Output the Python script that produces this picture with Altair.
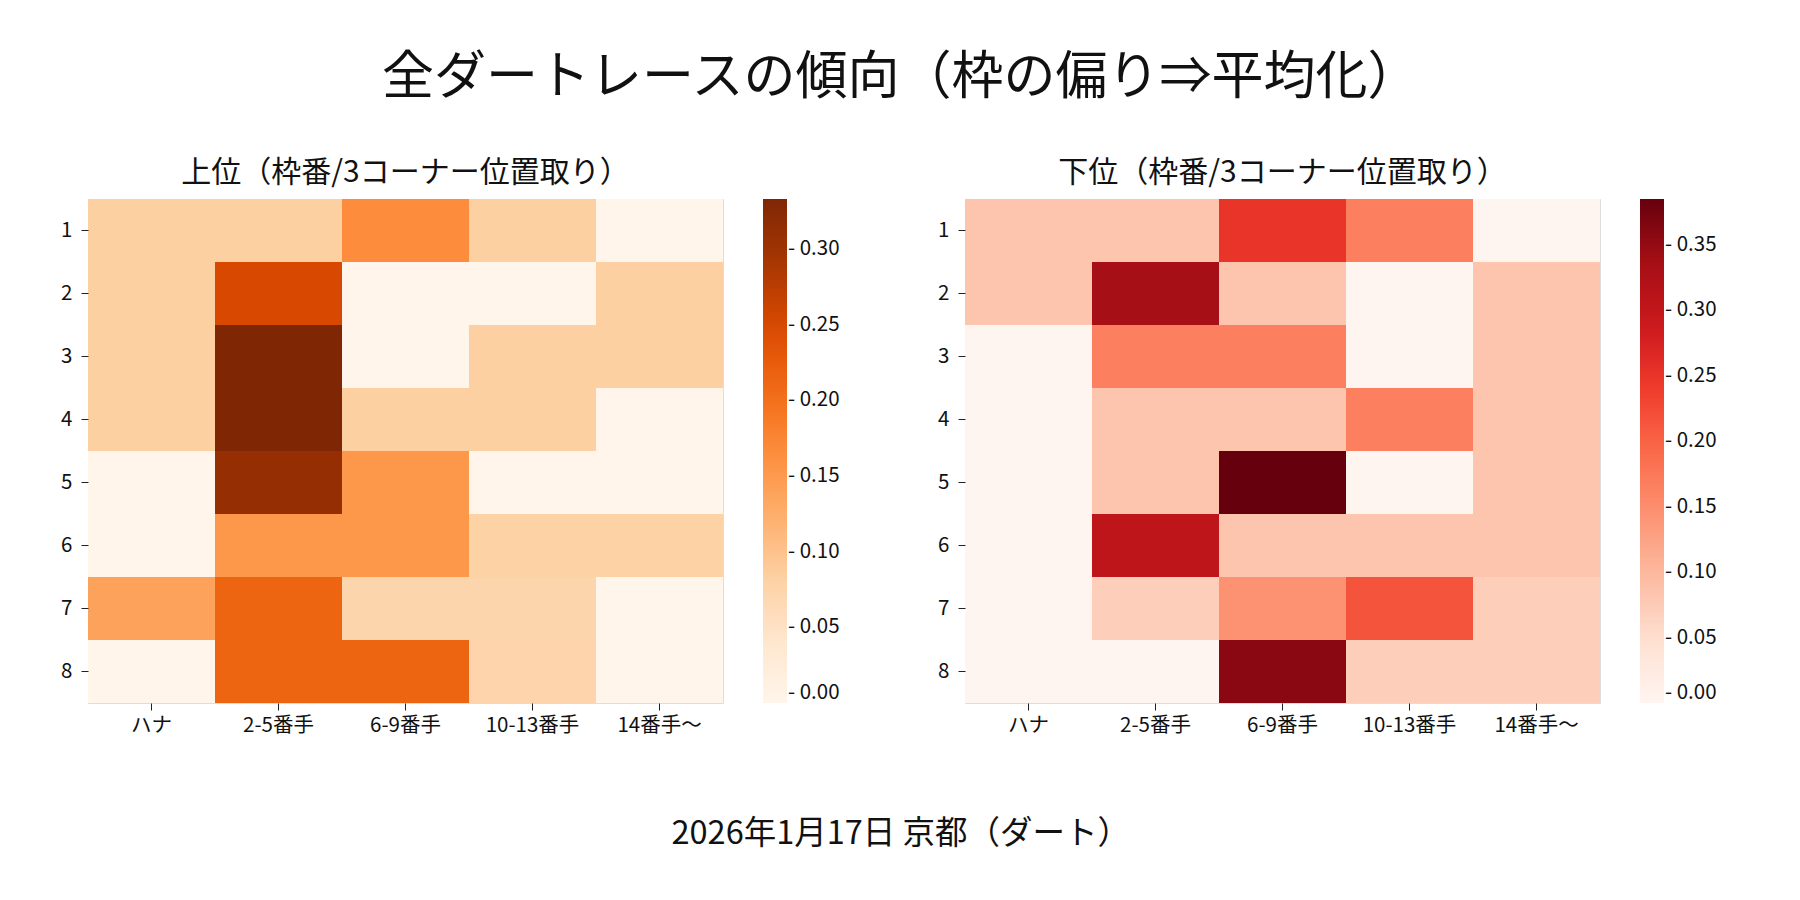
import altair as alt
import pandas as pd

FONT = "Noto Sans CJK JP"

positions = ["ハナ", "2-5番手", "6-9番手", "10-13番手", "14番手〜"]
waku = [1, 2, 3, 4, 5, 6, 7, 8]

# 上位 (rows = 枠番 1..8, cols = positions)
top_r1 = [0.083, 0.083, 0.167, 0.083, 0.0]
top_r2 = [0.083, 0.250, 0.0, 0.0, 0.083]
top_r3 = [0.083, 0.333, 0.0, 0.083, 0.083]
top_r4 = [0.083, 0.333, 0.083, 0.083, 0.0]
top_r5 = [0.0, 0.310, 0.153, 0.0, 0.0]
top_r6 = [0.0, 0.153, 0.153, 0.080, 0.080]
top_r7 = [0.140, 0.213, 0.073, 0.073, 0.0]
top_r8 = [0.0, 0.213, 0.213, 0.075, 0.0]
top_rows = [top_r1, top_r2, top_r3, top_r4, top_r5, top_r6, top_r7, top_r8]

# 下位
bot_r1 = [0.083, 0.083, 0.250, 0.167, 0.0]
bot_r2 = [0.083, 0.335, 0.083, 0.0, 0.083]
bot_r3 = [0.0, 0.167, 0.167, 0.0, 0.083]
bot_r4 = [0.0, 0.083, 0.083, 0.167, 0.083]
bot_r5 = [0.0, 0.083, 0.385, 0.0, 0.083]
bot_r6 = [0.0, 0.305, 0.083, 0.083, 0.083]
bot_r7 = [0.0, 0.072, 0.144, 0.215, 0.072]
bot_r8 = [0.0, 0.0, 0.358, 0.072, 0.072]
bot_rows = [bot_r1, bot_r2, bot_r3, bot_r4, bot_r5, bot_r6, bot_r7, bot_r8]

top_ticks = [0.0, 0.05, 0.10, 0.15, 0.20, 0.25, 0.30]
bot_ticks = [0.0, 0.05, 0.10, 0.15, 0.20, 0.25, 0.30, 0.35]

oranges = ["#fff5eb", "#fee6ce", "#fdd0a2", "#fdae6b", "#fd8d3c",
           "#f16913", "#d94801", "#a63603", "#7f2704"]
reds = ["#fff5f0", "#fee0d2", "#fcbba1", "#fc9272", "#fb6a4a",
        "#ef3b2c", "#cb181d", "#a50f15", "#67000d"]

main_title = "全ダートレースの傾向（枠の偏り⇒平均化）"
left_title = "上位（枠番/3コーナー位置取り）"
right_title = "下位（枠番/3コーナー位置取り）"
footer = "2026年1月17日 京都（ダート）"


def to_df(rows):
    recs = []
    for w, row in zip(waku, rows):
        for p, v in zip(positions, row):
            recs.append({"waku": w, "pos": p, "value": v})
    return pd.DataFrame(recs)


W, H = 635, 504
TICK_FS = 20.5


def heat(rows, colors, ticks, title):
    df = to_df(rows)
    vmax = max(max(r) for r in rows)
    n = len(colors) - 1
    dom = [vmax * i / n for i in range(n + 1)]
    return alt.Chart(df).mark_rect(strokeWidth=0).encode(
        x=alt.X("pos:N", sort=positions,
                axis=alt.Axis(title=None, labelAngle=0, domain=False, tickSize=7,
                              labelFontSize=TICK_FS, labelPadding=5, labelFont=FONT,
                              tickColor="#222", labelColor="#111")),
        y=alt.Y("waku:O", sort=waku,
                axis=alt.Axis(title=None, domain=False, tickSize=7,
                              labelFontSize=TICK_FS, labelPadding=9, labelFont=FONT,
                              tickColor="#222", labelColor="#111")),
        color=alt.Color("value:Q",
                        scale=alt.Scale(domain=dom, range=colors, interpolate="rgb"),
                        legend=alt.Legend(title=None, orient="right", offset=40,
                                          direction="vertical",
                                          gradientLength=H, gradientThickness=24,
                                          gradientStrokeWidth=0,
                                          values=ticks, format=".2f",
                                          labelExpr="'- ' + datum.label",
                                          labelFontSize=TICK_FS, labelFont=FONT,
                                          labelOffset=1, labelBaseline="middle",
                                          labelColor="#111", padding=0)),
    ).properties(
        width=W, height=H,
        title=alt.TitleParams(title, fontSize=30, font=FONT, fontWeight="normal",
                              anchor="middle", frame="group", offset=11, color="#111"),
    )


left = heat(top_rows, oranges, top_ticks, left_title)
right = heat(bot_rows, reds, bot_ticks, right_title)

inner = alt.hconcat(left, right, spacing=96).resolve_scale(color="independent").resolve_legend(color="independent").properties(
    title=alt.TitleParams(footer, orient="bottom", fontSize=32.5, font=FONT,
                          fontWeight="normal", anchor="middle", offset=82, dx=12,
                          color="#111")
)

chart = alt.vconcat(inner).properties(
    title=alt.TitleParams(main_title, fontSize=52, font=FONT, fontWeight="normal",
                          anchor="middle", offset=53, dx=12, color="#111"),
    padding={"left": 52, "top": 43, "right": 20, "bottom": 25},
).configure_view(stroke=None).configure(background="white")

chart.save("out.html", embed_options={"renderer": "svg", "actions": False})
